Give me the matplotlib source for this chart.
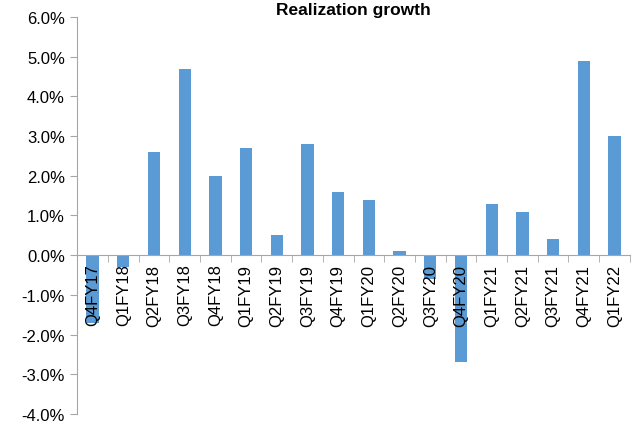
import matplotlib.pyplot as plt
import numpy as np
from matplotlib.ticker import FuncFormatter, FixedLocator

quarters = ["Q4FY17", "Q1FY18", "Q2FY18", "Q3FY18", "Q4FY18", "Q1FY19", "Q2FY19",
            "Q3FY19", "Q4FY19", "Q1FY20", "Q2FY20", "Q3FY20", "Q4FY20", "Q1FY21",
            "Q2FY21", "Q3FY21", "Q4FY21", "Q1FY22"]
growth = [-1.7, -0.3, 2.6, 4.7, 2.0, 2.7, 0.5, 2.8, 1.6, 1.4, 0.1, -0.6, -2.7,
          1.3, 1.1, 0.4, 4.9, 3.0]

plt.rcParams['font.family'] = ['Liberation Sans', 'DejaVu Sans']

fig = plt.figure(figsize=(6.44, 4.27), dpi=100)
ax = fig.add_axes([0.12, 0.028, 0.858, 0.93])

x = np.arange(len(quarters))
ax.bar(x, growth, width=0.4, color="#5B9BD5", zorder=1)
ax.set_axisbelow(False)

ax.set_xlim(-0.5, len(quarters) - 0.5)
ax.set_ylim(-4, 6)
ax.set_yticks(np.arange(-4, 7, 1))
ax.yaxis.set_major_formatter(FuncFormatter(lambda v, p: f"{v:.1f}%"))

ax.spines['top'].set_visible(False)
ax.spines['right'].set_visible(False)
ax.spines['bottom'].set_position(('data', 0))
ax.spines['bottom'].set_color('#a6a6a6')
ax.spines['left'].set_color('#a6a6a6')

ax.set_xticks(x)
ax.set_xticklabels(quarters, rotation=90, fontsize=12)
ax.tick_params(axis='x', which='major', length=0, pad=6)
ax.xaxis.set_minor_locator(FixedLocator(np.arange(-0.5, len(quarters), 1)))
ax.tick_params(axis='x', which='minor', length=5, color='#a6a6a6', direction='out')
ax.tick_params(axis='y', labelsize=12, length=5, color='#a6a6a6', pad=4)

ax.set_title("Realization growth", fontsize=12.5, fontweight='bold', pad=-2)

fig.savefig("out.png", dpi=100)
